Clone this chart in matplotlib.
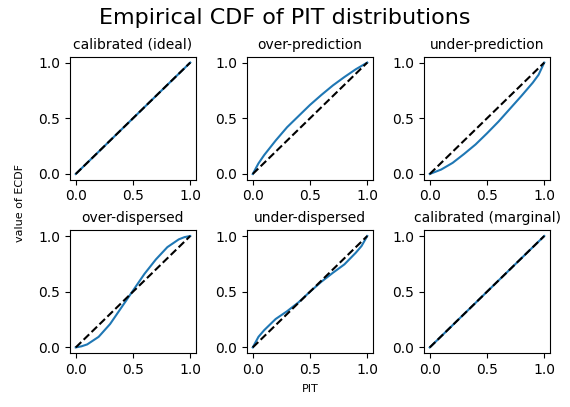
import numpy as np
import matplotlib.pyplot as plt

# PIT grid and ECDF values
pit = [0.0, 0.05, 0.1, 0.2, 0.3, 0.4, 0.5, 0.6, 0.7, 0.8, 0.9, 0.95, 1.0]
ecdf_ideal = [0.0, 0.05, 0.1, 0.2, 0.3, 0.4, 0.5, 0.6, 0.7, 0.8, 0.9, 0.95, 1.0]
ecdf_over_pred = [0.0, 0.095, 0.17, 0.30, 0.42, 0.52, 0.62, 0.71, 0.795, 0.87, 0.94, 0.97, 1.0]
ecdf_under_pred = [0.0, 0.02, 0.04, 0.10, 0.18, 0.265, 0.365, 0.47, 0.585, 0.70, 0.82, 0.89, 1.0]
ecdf_over_disp = [0.0, 0.01, 0.027, 0.095, 0.21, 0.36, 0.51, 0.66, 0.79, 0.90, 0.97, 0.99, 1.0]
ecdf_under_disp = [0.0, 0.095, 0.155, 0.255, 0.325, 0.405, 0.5, 0.59, 0.67, 0.745, 0.85, 0.91, 1.0]
ecdf_marginal = [0.0, 0.05, 0.1, 0.2, 0.3, 0.4, 0.5, 0.6, 0.7, 0.8, 0.9, 0.95, 1.0]

titles = ['calibrated (ideal)', 'over-prediction', 'under-prediction',
          'over-dispersed', 'under-dispersed', 'calibrated (marginal)']
series = [ecdf_ideal, ecdf_over_pred, ecdf_under_pred,
          ecdf_over_disp, ecdf_under_disp, ecdf_marginal]

fig, axs = plt.subplots(2, 3, figsize=(5.7, 4.07), dpi=100)
fig.subplots_adjust(left=70/570, right=550/570, top=1-57/407, bottom=1-353/407,
                    wspace=0.405, hspace=0.415)
for ax, titulo, y in zip(axs.flat, titles, series):
    ax.plot(pit, y)
    ax.plot([0, 1], [0, 1], 'k--')
    ax.set_title(titulo, fontsize=10)
    ax.set_xticks([0, 0.5, 1])
    ax.set_yticks([0, 0.5, 1])

fig.suptitle('Empirical CDF of PIT distributions', fontsize=16, y=1-18/407, va='center')
fig.supxlabel('PIT', fontsize=8, x=310/570, y=1-389/407, va='center')
fig.supylabel('value of ECDF', fontsize=8, x=15/570, y=1-203/407, va='center')
fig.savefig('out.png')
